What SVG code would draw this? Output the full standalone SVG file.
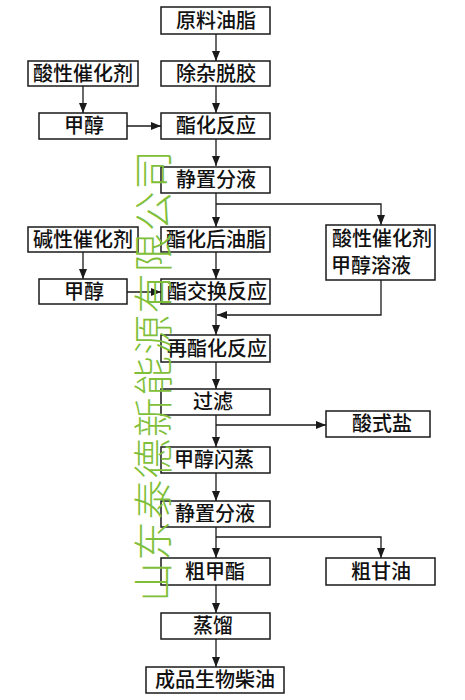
<svg xmlns="http://www.w3.org/2000/svg" width="465" height="700" viewBox="0 0 465 700">
<style>
.box rect{fill:#fff;stroke:#1a1a1a;stroke-width:1.5}
.box text{font-family:"Noto Sans CJK SC","Noto Sans CJK JP",sans-serif;font-size:20px;font-weight:500;fill:#111;text-anchor:middle}
.conn path{fill:none;stroke:#1a1a1a;stroke-width:1.3}
.wm{font-family:"Noto Sans CJK SC",sans-serif;font-size:40px;font-weight:300;fill:#7fbf3a}
</style>
<defs>
<marker id="ah" viewBox="0 0 10 8" refX="10" refY="4" markerWidth="10" markerHeight="8" markerUnits="userSpaceOnUse" orient="auto">
<path d="M0,0 L10,4 L0,8 Z" fill="#1a1a1a"/>
</marker>
</defs>
<rect width="465" height="700" fill="#fff"/>
<g class="conn">
<path d="M216,34 V61" marker-end="url(#ah)"/>
<path d="M216,86 V113" marker-end="url(#ah)"/>
<path d="M83,86 V113" marker-end="url(#ah)"/>
<path d="M127,126 H161" marker-end="url(#ah)"/>
<path d="M216,139 V166" marker-end="url(#ah)"/>
<path d="M216,193 V227" marker-end="url(#ah)"/>
<path d="M216,204 H381 V225" marker-end="url(#ah)"/>
<path d="M83,252 V279" marker-end="url(#ah)"/>
<path d="M127,292 H161" marker-end="url(#ah)"/>
<path d="M216,252 V279" marker-end="url(#ah)"/>
<path d="M216,304 V335" marker-end="url(#ah)"/>
<path d="M381,280 V315 H217" marker-end="url(#ah)"/>
<path d="M216,362 V389" marker-end="url(#ah)"/>
<path d="M216,415 V447" marker-end="url(#ah)"/>
<path d="M216,425 H326" marker-end="url(#ah)"/>
<path d="M216,473 V501" marker-end="url(#ah)"/>
<path d="M216,527 V558" marker-end="url(#ah)"/>
<path d="M216,537 H381 V558" marker-end="url(#ah)"/>
<path d="M216,585 V613" marker-end="url(#ah)"/>
<path d="M216,639 V667" marker-end="url(#ah)"/>
</g>
<g id="n1" class="box"><rect x="161" y="7" width="109" height="27"/><text x="216" y="28">原料油脂</text></g>
<g id="n2" class="box"><rect x="161" y="61" width="109" height="25"/><text x="216" y="81">除杂脱胶</text></g>
<g id="n3" class="box"><rect x="28" y="61" width="110" height="25"/><text x="83" y="81">酸性催化剂</text></g>
<g id="n4" class="box"><rect x="39" y="113" width="88" height="26"/><text x="84" y="133">甲醇</text></g>
<g id="n5" class="box"><rect x="161" y="113" width="109" height="26"/><text x="216" y="133">酯化反应</text></g>
<g id="n6" class="box"><rect x="161" y="167" width="109" height="26"/><text x="216" y="187">静置分液</text></g>
<g id="n7" class="box"><rect x="28" y="227" width="110" height="25"/><text x="83" y="247">碱性催化剂</text></g>
<g id="n8" class="box"><rect x="161" y="227" width="109" height="25"/><text x="216" y="247">酯化后油脂</text></g>
<g id="n9" class="box"><rect x="326" y="225" width="109" height="55"/><text x="382" y="246">酸性催化剂</text><text x="331" y="273" style="text-anchor:start">甲醇溶液</text></g>
<g id="n10" class="box"><rect x="39" y="279" width="88" height="25"/><text x="84" y="299">甲醇</text></g>
<g id="n11" class="box"><rect x="161" y="279" width="109" height="25"/><text x="217" y="299">酯交换反应</text></g>
<g id="n12" class="box"><rect x="161" y="335" width="109" height="27"/><text x="217" y="356">再酯化反应</text></g>
<g id="n13" class="box"><rect x="161" y="389" width="109" height="26"/><text x="213" y="409">过滤</text></g>
<g id="n14" class="box"><rect x="326" y="411" width="104" height="26"/><text x="382" y="431">酸式盐</text></g>
<g id="n15" class="box"><rect x="161" y="447" width="109" height="26"/><text x="214" y="467">甲醇闪蒸</text></g>
<g id="n16" class="box"><rect x="161" y="501" width="109" height="26"/><text x="215" y="521">静置分液</text></g>
<g id="n17" class="box"><rect x="161" y="558" width="109" height="27"/><text x="215" y="579">粗甲酯</text></g>
<g id="n18" class="box"><rect x="326" y="558" width="109" height="27"/><text x="381" y="579">粗甘油</text></g>
<g id="n19" class="box"><rect x="161" y="613" width="109" height="26"/><text x="213" y="633">蒸馏</text></g>
<g id="n20" class="box"><rect x="146" y="667" width="138" height="26"/><text x="215" y="687">成品生物柴油</text></g>
<text class="wm" transform="translate(168,602) rotate(-90)" textLength="452" lengthAdjust="spacing">山东泰德新能源有限公司</text>
</svg>
